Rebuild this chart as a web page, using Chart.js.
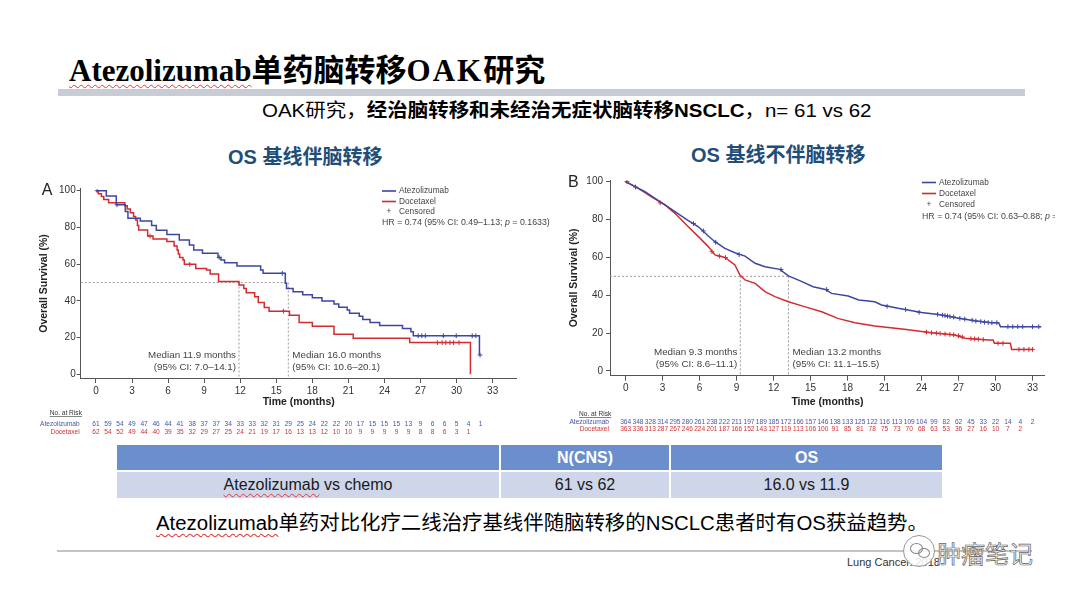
<!DOCTYPE html>
<html><head><meta charset="utf-8">
<script src="https://cdn.jsdelivr.net/npm/chart.js@4.4.0/dist/chart.umd.min.js"></script>
<style>
html,body{margin:0;padding:0;background:#fff;}
body{width:1080px;height:602px;position:relative;overflow:hidden;font-family:"Liberation Sans","Noto Sans CJK SC",sans-serif;}
.abs{position:absolute;white-space:nowrap;}
.cjk{font-family:"Noto Sans CJK SC",sans-serif;}
.serif{font-family:"Liberation Serif","Noto Sans CJK SC",serif;}
.wavy{text-decoration:underline wavy #e03a3a;text-decoration-thickness:1px;text-underline-offset:3px;}
.cell{position:absolute;display:flex;align-items:center;justify-content:center;font-size:16px;white-space:nowrap;}
.hd{background:#6a8fcc;color:#fff;font-weight:bold;top:445px;height:25px;}
.rw{background:#cfd6ea;color:#1a1a1a;top:472px;height:26px;}
canvas{position:absolute;}
</style></head>
<body>
<div class="abs" style="left:69px;top:52px;font-size:31px;line-height:32px;font-weight:bold;color:#000;"><span class="serif wavy">Atezolizumab</span><span class="cjk">单药脑转移</span><span class="serif" style="letter-spacing:2px">OAK</span><span class="cjk">研究</span></div>
<div class="abs" style="left:58px;top:89px;width:967px;height:7px;background:#c8ccd4;"></div>
<div class="abs" style="left:262px;top:99px;font-size:19px;line-height:24px;color:#000;transform:scaleX(1.078);transform-origin:0 50%;">OAK研究，<b>经治脑转移和未经治无症状脑转移NSCLC</b>，n= 61 vs 62</div>
<div class="abs" style="left:228px;top:145px;font-size:20px;line-height:24px;font-weight:bold;color:#1f4e79;">OS 基线伴脑转移</div>
<div class="abs" style="left:691px;top:143px;font-size:20px;line-height:24px;font-weight:bold;color:#1f4e79;">OS 基线不伴脑转移</div>

<canvas id="cA" width="525" height="268" style="left:30px;top:176px;width:525px;height:268px;"></canvas>
<canvas id="cB" width="500" height="275" style="left:555px;top:170px;width:500px;height:275px;"></canvas>

<div class="cell hd" style="left:117px;width:382px;"></div>
<div class="cell hd" style="left:501px;width:168px;">N(CNS)</div>
<div class="cell hd" style="left:671px;width:271px;">OS</div>
<div class="cell rw" style="left:117px;width:382px;"><span><span class="wavy">Atezolizumab</span> vs chemo</span></div>
<div class="cell rw" style="left:501px;width:168px;">61 vs 62</div>
<div class="cell rw" style="left:671px;width:271px;">16.0 vs 11.9</div>

<div class="abs" style="left:156px;top:511px;font-size:20px;line-height:24px;color:#000;transform:scaleX(1.02);transform-origin:0 50%;"><span class="wavy">Atezolizumab</span>单药对比化疗二线治疗基线伴随脑转移的NSCLC患者时有OS获益趋势。</div>
<div class="abs" style="left:57px;top:550px;width:975px;height:2px;background:#c4c4c4;"></div>
<div class="abs" style="left:847px;top:555px;font-size:11px;line-height:14px;color:#333;">Lung Cancer. 2018</div>
<div class="abs" style="left:903px;top:535px;width:30px;height:30px;border-radius:50%;background:rgba(255,255,255,0.85);border:1px solid #999;"></div>
<div class="abs" style="left:910px;top:543px;width:11px;height:9px;border-radius:50%;border:1px solid #888;"></div>
<div class="abs" style="left:918px;top:548px;width:10px;height:8px;border-radius:50%;border:1px solid #888;"></div>
<div class="abs cjk" style="left:937px;top:539px;font-size:24px;line-height:28px;color:#f4f4f4;-webkit-text-stroke:0.7px #666;">肿瘤笔记</div>

<script>
// ---------- shared ticks ----------
const monthTicks = [0, 3, 6, 9, 12, 15, 18, 21, 24, 27, 30, 33];
const survivalTicks = [0, 20, 40, 60, 80, 100];

// ---------- Panel A: baseline brain metastases ----------
const aAtezoT = [0, 0.86, 1.69, 2.44, 2.66, 3.69, 4.63, 5.02, 5.9, 6.93, 7.77, 8.13, 8.86, 10.15, 10.4, 10.7, 11.73, 13.7, 13.9, 15.75, 15.85, 16.4, 17.2, 18.0, 18.8, 19.8, 20.2, 20.9, 21.1, 21.9, 22.2, 22.8, 23.6, 25.5, 26.2, 26.4, 31.9];
const aAtezoS = [100, 97.1, 92.4, 88.7, 85.0, 83.5, 81.0, 78.5, 76.2, 73.1, 70.4, 67.7, 65.9, 63.7, 62.3, 60.8, 59.0, 56.8, 55.0, 49.6, 46.8, 45.0, 43.4, 41.7, 40.0, 38.3, 36.6, 35.0, 33.3, 31.6, 29.9, 28.2, 26.6, 24.9, 23.2, 21.0, 10.5];
const aDoceT = [0, 0.2, 0.45, 0.65, 1.05, 2.4, 2.6, 2.86, 3.13, 3.3, 3.45, 3.55, 4.3, 4.75, 5.9, 6.5, 6.75, 6.85, 6.96, 7.24, 7.35, 8.3, 9.2, 9.5, 10.2, 11.9, 12.3, 12.5, 13.2, 13.5, 14.0, 14.4, 16.1, 16.9, 18.0, 19.8, 21.4, 26.1, 31.15];
const aDoceS = [100, 98.4, 96.8, 95.2, 93.4, 91.8, 90.0, 88.0, 85.9, 84.1, 81.0, 78.6, 75.3, 73.7, 72.3, 69.9, 67.7, 65.6, 63.7, 62.3, 59.9, 57.7, 56.8, 54.6, 50.5, 48.6, 46.7, 44.5, 42.3, 39.1, 36.4, 34.4, 32.2, 28.2, 26.2, 21.8, 19.6, 17.3, 0];
const aAtezoCensT = [1.75, 10.25, 15.5, 26.8, 27.1, 27.4, 28.9, 29.97, 31.3, 31.6, 31.95];
const aAtezoCensS = [92.4, 63.7, 55.0, 21.0, 21.0, 21.0, 21.0, 21.0, 21.0, 21.0, 10.5];
const aDoceCensT = [0.1, 4.5, 7.8, 15.6, 28.4, 28.8, 29.1, 29.45, 29.75, 30.2];
const aDoceCensS = [100, 75.3, 59.9, 34.4, 17.3, 17.3, 17.3, 17.3, 17.3, 17.3];
const aMedian = [11.9, 16.0];          // docetaxel, atezolizumab
const aMedianCiLow = [7.0, 10.6];
const aMedianCiHigh = [14.1, 20.1];
const aRiskMonthsAtezo = [0,1,2,3,4,5,6,7,8,9,10,11,12,13,14,15,16,17,18,19,20,21,22,23,24,25,26,27,28,29,30,31,32];
const aRiskAtezo = [61,59,54,49,47,46,44,41,38,37,37,34,33,33,32,31,29,25,24,22,22,20,17,15,15,15,13,9,6,6,5,4,1];
const aRiskMonthsDoce = [0,1,2,3,4,5,6,7,8,9,10,11,12,13,14,15,16,17,18,19,20,21,22,23,24,25,26,27,28,29,30,31];
const aRiskDoce = [62,54,52,49,44,40,39,35,32,29,27,25,24,21,19,17,16,13,13,12,10,10,9,9,9,9,9,8,8,6,3,1];
const aHR = ['0.74', '0.49', '1.13', '0.1633'];

// ---------- Panel B: no baseline brain metastases ----------
const bAtezoT = [0, 0.76, 1.57, 2.38, 3.19, 4.0, 5.08, 5.9, 6.7, 7.24, 8.05, 8.86, 9.68, 10.5, 11.3, 12.5, 13.2, 14.3, 15.2, 16.2, 16.7, 18.05, 18.9, 20.2, 20.75, 22.1, 24.0, 25.35, 27.0, 28.3, 29.7, 30.25, 30.4, 33.7];
const bAtezoS = [100, 97.4, 94.7, 91.2, 87.7, 84.2, 79.4, 76.2, 71.3, 68.3, 64.8, 62.5, 60.7, 56.9, 55.1, 53.7, 50.2, 47.2, 44.5, 43.1, 41.0, 39.6, 37.5, 36.6, 34.9, 33.1, 30.9, 29.8, 27.9, 26.5, 25.5, 25.5, 23.4, 23.4];
const bDoceT = [0, 1.03, 2.1, 3.19, 4.0, 5.08, 5.9, 6.7, 7.24, 8.05, 8.86, 9.27, 9.68, 10.5, 11.3, 12.1, 13.2, 14.5, 15.9, 17.2, 18.6, 20.2, 22.6, 24.8, 26.7, 27.5, 29.4, 29.8, 29.9, 31.2, 31.3, 33.0];
const bDoceS = [100, 96.5, 92.0, 87.7, 83.3, 76.2, 71.0, 65.7, 61.3, 60.0, 56.0, 50.7, 48.1, 46.3, 41.9, 39.3, 36.6, 34.0, 31.3, 27.8, 25.5, 23.8, 22.0, 20.2, 19.0, 17.3, 16.4, 16.4, 14.6, 14.6, 11.4, 11.4];
const bAtezoCensT = [0.8, 5.5, 6.3, 7.3, 9.2, 12.6, 16.3, 21.2, 22.7, 23.8, 25.3, 25.7, 25.9, 26.1, 26.3, 26.6, 27.1, 27.5, 28.1, 28.4, 28.8, 29.1, 29.4, 29.7, 30.1, 31.0, 31.4, 31.8, 32.2, 33.0, 33.5];
const bAtezoCensS = [97.2, 77.9, 74.0, 68.0, 61.5, 53.6, 43.0, 34.2, 32.5, 31.0, 29.9, 29.5, 29.3, 29.0, 28.8, 28.5, 27.8, 27.4, 26.8, 26.4, 26.1, 25.8, 25.6, 25.5, 25.5, 23.4, 23.4, 23.4, 23.4, 23.4, 23.4];
const bDoceCensT = [0.1, 2.8, 7.0, 7.6, 8.1, 24.4, 24.8, 25.2, 25.5, 25.9, 26.3, 26.6, 27.0, 27.3, 28.0, 28.3, 28.6, 29.0, 30.2, 30.6, 31.9, 32.3, 32.7, 33.0];
const bDoceCensS = [100, 88.8, 63.0, 60.7, 59.9, 20.5, 20.2, 20.0, 19.8, 19.5, 19.3, 19.1, 18.6, 18.0, 17.1, 17.0, 16.8, 16.6, 14.6, 14.6, 11.4, 11.4, 11.4, 11.4];
const bMedian = [9.3, 13.2];
const bMedianCiLow = [8.6, 11.1];
const bMedianCiHigh = [11.1, 15.5];
const bRiskMonthsAtezo = [0,1,2,3,4,5,6,7,8,9,10,11,12,13,14,15,16,17,18,19,20,21,22,23,24,25,26,27,28,29,30,31,32,33];
const bRiskAtezo = [364,348,328,314,295,280,261,238,222,211,197,189,185,172,166,157,146,138,133,125,122,116,113,109,104,99,82,62,45,33,22,14,4,2];
const bRiskMonthsDoce = [0,1,2,3,4,5,6,7,8,9,10,11,12,13,14,15,16,17,18,19,20,21,22,23,24,25,26,27,28,29,30,31,32];
const bRiskDoce = [363,336,313,287,267,246,224,201,187,166,152,143,127,119,113,106,100,91,85,81,78,75,73,70,68,63,53,36,27,16,10,7,2];
const bHR = ['0.74', '0.63', '0.88', null];

const SERIES = ['Atezolizumab', 'Docetaxel'];
const BLUE = '#3d47a3', RED = '#d42b30', AXIS = '#555', FONT = 'Liberation Sans';
const BLUE_TXT = '#4754a8', RED_TXT = '#cf3238';

const pts = (t, s) => t.map((v, i) => ({x: v, y: s[i]}));

const overlay = {
  id: 'overlay',
  beforeDatasetsDraw(chart, args, o) {
    const {ctx, chartArea: ca, scales: {x, y}} = chart;
    ctx.save();
    ctx.strokeStyle = '#9c9c9c'; ctx.lineWidth = 1; ctx.setLineDash([2, 2]);
    const y50 = y.getPixelForValue(50);
    const xs = o.medians.map(m => x.getPixelForValue(m));
    ctx.beginPath();
    ctx.moveTo(ca.left, y50); ctx.lineTo(Math.max(...xs), y50);
    xs.forEach(px => { ctx.moveTo(px, y50); ctx.lineTo(px, ca.bottom); });
    ctx.stroke();
    ctx.restore();
  },
  afterDraw(chart, args, o) {
    const {ctx, chartArea: ca, scales: {x}} = chart;
    ctx.save();
    ctx.textBaseline = 'middle';
    // panel letter
    ctx.fillStyle = '#222'; ctx.font = `16px "${FONT}"`; ctx.textAlign = 'left';
    ctx.fillText(o.letter, o.letterX, o.letterY);
    // median labels
    ctx.fillStyle = '#444'; ctx.font = `9.8px "${FONT}"`;
    o.medians.forEach((m, i) => {
      const px = x.getPixelForValue(m);
      const right = i === 0;
      ctx.textAlign = right ? 'right' : 'left';
      const tx = right ? px - 3 : px + 4;
      ctx.fillText(`Median ${m.toFixed(1)} months`, tx, ca.bottom - 23);
      ctx.fillText(`(95% CI: ${o.ciLow[i].toFixed(1)}\u2013${o.ciHigh[i].toFixed(1)})`, tx, ca.bottom - 11);
    });
    // legend
    const L = o.legend;
    ctx.textAlign = 'left'; ctx.font = `8.3px "${FONT}"`;
    [BLUE, RED].forEach((c, i) => {
      const yy = L.y + i * L.gap;
      ctx.strokeStyle = c; ctx.lineWidth = 1.6;
      ctx.beginPath(); ctx.moveTo(L.x, yy); ctx.lineTo(L.x + 14, yy); ctx.stroke();
      ctx.fillStyle = '#444'; ctx.fillText(SERIES[i], L.x + 17, yy);
    });
    const yc = L.y + 2 * L.gap;
    ctx.fillStyle = '#444'; ctx.textAlign = 'center'; ctx.fillText('+', L.x + 7, yc);
    ctx.textAlign = 'left'; ctx.fillText('Censored', L.x + 17, yc);
    // HR
    const h = o.hr; const yh = L.y + 2 * L.gap + L.hrGap;
    ctx.font = `8.8px "${FONT}"`;
    let t1 = `HR = ${h[0]} (95% CI: ${h[1]}\u2013${h[2]}; `;
    ctx.fillText(t1, L.x, yh);
    let xx = L.x + ctx.measureText(t1).width;
    ctx.font = `italic 8.8px "${FONT}"`; ctx.fillText('p', xx, yh);
    xx += ctx.measureText('p').width;
    ctx.font = `8.8px "${FONT}"`;
    ctx.fillText(h[3] ? ` = ${h[3]})` : ' =', xx, yh);
    // number at risk
    const R = o.risk;
    ctx.font = `6.6px "${FONT}"`; ctx.fillStyle = '#333'; ctx.textAlign = 'left';
    const nx = ca.left - 31, ny = ca.bottom + R.head;
    ctx.fillText('No. at Risk', nx, ny);
    const w = ctx.measureText('No. at Risk').width;
    ctx.strokeStyle = '#333'; ctx.lineWidth = 0.6;
    ctx.beginPath(); ctx.moveTo(nx, ny + 3.5); ctx.lineTo(nx + w, ny + 3.5); ctx.stroke();
    ctx.textAlign = 'right';
    ctx.fillStyle = BLUE_TXT; ctx.fillText(SERIES[0], ca.left - 1, ca.bottom + R.row1);
    ctx.fillStyle = RED_TXT; ctx.fillText(SERIES[1], ca.left - 1, ca.bottom + R.row2);
    ctx.textAlign = 'center';
    ctx.fillStyle = BLUE_TXT;
    R.atezo.forEach((v, i) => ctx.fillText(String(v), x.getPixelForValue(R.atezoM[i]), ca.bottom + R.row1));
    ctx.fillStyle = RED_TXT;
    R.doce.forEach((v, i) => ctx.fillText(String(v), x.getPixelForValue(R.doceM[i]), ca.bottom + R.row2));
    ctx.restore();
  }
};

function buildChart(id, c) {
  const tickFont = {family: FONT, size: 10};
  const titleFont = {family: FONT, size: 10.5, weight: 'bold'};
  return new Chart(document.getElementById(id), {
    type: 'scatter',
    data: {datasets: [
      {type: 'line', data: pts(c.atezoT, c.atezoS), borderColor: BLUE, borderWidth: 1.5, pointRadius: 0, stepped: c.stepped, tension: 0, fill: false},
      {type: 'line', data: pts(c.doceT, c.doceS), borderColor: RED, borderWidth: 1.5, pointRadius: 0, stepped: c.stepped, tension: 0, fill: false},
      {type: 'scatter', data: pts(c.atezoCT, c.atezoCS), pointStyle: 'cross', pointRadius: 2.4, borderColor: BLUE, borderWidth: 1, backgroundColor: BLUE},
      {type: 'scatter', data: pts(c.doceCT, c.doceCS), pointStyle: 'cross', pointRadius: 2.4, borderColor: RED, borderWidth: 1, backgroundColor: RED}
    ]},
    options: {
      responsive: false, animation: false, events: [],
      layout: {padding: c.padding},
      plugins: {legend: {display: false}, tooltip: {enabled: false}, overlay: c.overlay},
      scales: {
        x: {type: 'linear', min: c.xMin, max: c.xMax,
            afterBuildTicks: s => { s.ticks = monthTicks.map(v => ({value: v})); },
            afterFit: s => { s.height = c.xH; },
            grid: {display: true, drawOnChartArea: false, drawTicks: true, tickLength: 5, color: AXIS},
            border: {display: true, color: AXIS, width: 1},
            ticks: {font: tickFont, color: '#333', padding: 2, maxRotation: 0, autoSkip: false},
            title: {display: true, text: 'Time (months)', font: titleFont, color: '#222', padding: {top: 0, bottom: 0}}},
        y: {type: 'linear', min: c.yMin, max: c.yMax,
            afterBuildTicks: s => { s.ticks = survivalTicks.map(v => ({value: v})); },
            afterFit: s => { s.width = c.yW; },
            grid: {display: true, drawOnChartArea: false, drawTicks: true, tickLength: 4, color: AXIS},
            border: {display: true, color: AXIS, width: 1},
            ticks: {font: tickFont, color: '#333', padding: c.yPad},
            title: {display: true, text: 'Overall Survival (%)', font: titleFont, color: '#222', padding: {top: c.yTitlePad, bottom: 0}}}
      }
    },
    plugins: [overlay]
  });
}

buildChart('cA', {
  atezoT: aAtezoT, atezoS: aAtezoS, doceT: aDoceT, doceS: aDoceS,
  atezoCT: aAtezoCensT, atezoCS: aAtezoCensS, doceCT: aDoceCensT, doceCS: aDoceCensS,
  stepped: 'before',
  padding: {left: 0, top: 12.9, right: 38.3, bottom: 35.7},
  xMin: -1.27, xMax: 35.0, yMin: -2, yMax: 101, xH: 30.3, yW: 50.7, yPad: 1, yTitlePad: 7.7,
  overlay: {letter: 'A', letterX: 11.7, letterY: 15, medians: aMedian, ciLow: aMedianCiLow, ciHigh: aMedianCiHigh,
    legend: {x: 352, y: 15, gap: 10.5, hrGap: 10.5}, hr: aHR,
    risk: {head: 35, row1: 46, row2: 54, atezo: aRiskAtezo, atezoM: aRiskMonthsAtezo, doce: aRiskDoce, doceM: aRiskMonthsDoce}}
});

buildChart('cB', {
  atezoT: bAtezoT, atezoS: bAtezoS, doceT: bDoceT, doceS: bDoceS,
  atezoCT: bAtezoCensT, atezoCS: bAtezoCensS, doceCT: bDoceCensT, doceCS: bDoceCensS,
  stepped: false,
  padding: {left: 0, top: 10, right: 10.1, bottom: 36.7},
  xMin: -1.27, xMax: 34, yMin: -2.5, yMax: 100.9, xH: 32.6, yW: 55, yPad: 3, yTitlePad: 12.7,
  overlay: {letter: 'B', letterX: 13, letterY: 12.5, medians: bMedian, ciLow: bMedianCiLow, ciHigh: bMedianCiHigh,
    legend: {x: 367, y: 12.5, gap: 11, hrGap: 12.5}, hr: bHR,
    risk: {head: 38.3, row1: 46.6, row2: 53.6, atezo: bRiskAtezo, atezoM: bRiskMonthsAtezo, doce: bRiskDoce, doceM: bRiskMonthsDoce}}
});
</script>
</body></html>
